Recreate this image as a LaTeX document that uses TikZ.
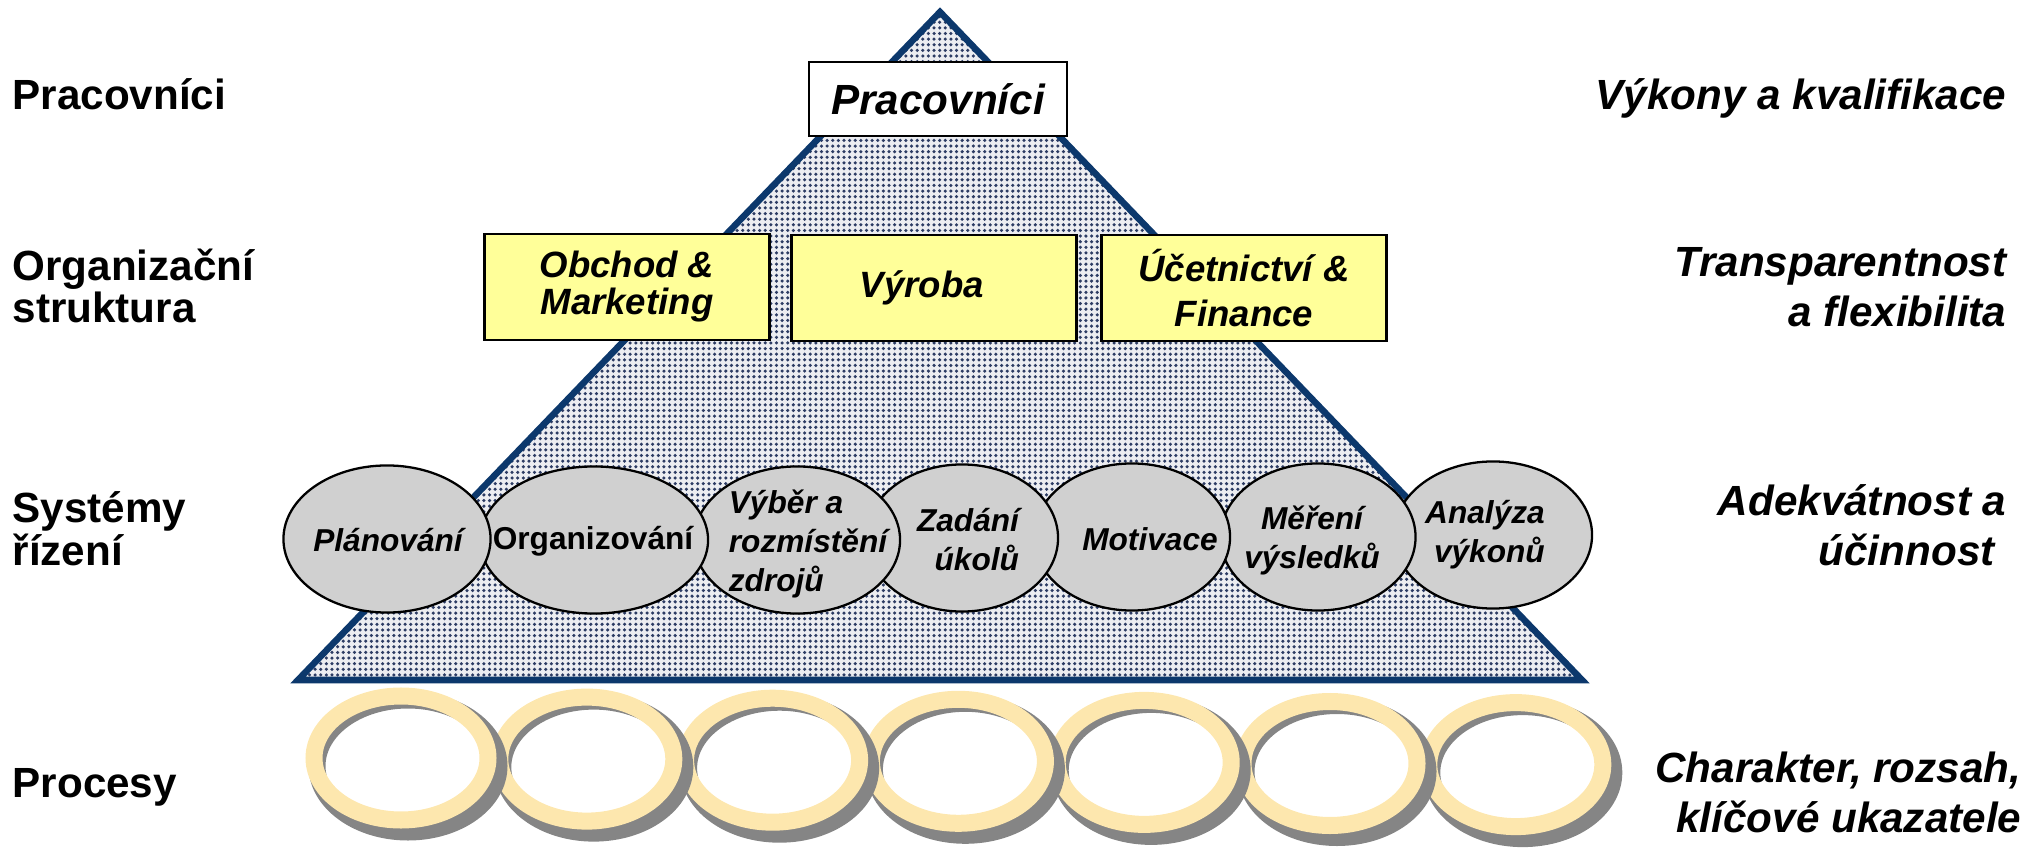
\documentclass[tikz,border=0pt]{standalone}
\usepackage{fontspec}
\setmainfont{Liberation Sans}
\usetikzlibrary{shapes.geometric}
\usetikzlibrary{patterns.meta}

\definecolor{navy}{RGB}{12,56,108}
\definecolor{dotcol}{RGB}{45,60,100}
\definecolor{dotbg}{RGB}{236,237,241}
\definecolor{sysgray}{RGB}{208,208,208}
\definecolor{deptyellow}{RGB}{255,255,153}
\definecolor{ringyellow}{RGB}{253,231,174}
\definecolor{ringshade}{RGB}{133,133,133}

\tikzdeclarepattern{
  name=finedots,
  type=uncolored,
  bounding box={(-0.8pt,-0.8pt) and (0.8pt,0.8pt)},
  tile size={(1.6pt,1.6pt)},
  code={\fill (0pt,0pt) circle (0.5pt);}
}

\begin{document}
\begin{tikzpicture}[x=0.01cm, y=-0.01cm,
    lvl/.style={font=\bfseries\fontsize{12}{12.2}\selectfont, inner sep=0pt},
    crit/.style={font=\bfseries\itshape\fontsize{12}{14.2}\selectfont, inner sep=0pt},
    dept/.style={draw, line width=0.7pt, fill=deptyellow, minimum width=2.85cm, minimum height=1.06cm,
        inner sep=0pt, align=center, font=\bfseries\itshape\fontsize{10.4}{10.5}\selectfont},
    sys/.style={ellipse, draw, line width=0.65pt, fill=sysgray, inner sep=0pt, minimum height=1.47cm},
    systxt/.style={font=\bfseries\itshape\fontsize{9}{11.1}\selectfont, inner sep=0pt},
    ring/.style={draw=ringyellow, line width=0.17cm},
    ringshadow/.style={draw=ringshade, line width=0.17cm}]
    \useasboundingbox (0,0) rectangle (2033,855);

    % pyramid
    \coordinate (top) at (940,12);
    \coordinate (bl) at (298,680);
    \coordinate (br) at (1582,680);
    \draw[draw=navy, line width=1.85pt, preaction={fill=dotbg}, pattern={finedots}, pattern color=dotcol]
        (top) -- (bl) -- (br) -- cycle;

    \node[draw, line width=0.6pt, fill=white, minimum width=2.57cm, minimum height=0.74cm, inner sep=0pt,
        font=\bfseries\itshape\fontsize{12}{14}\selectfont] (prac) at (938,99) {Pracovníci};

    \node[dept] (obchod) at (627,287) {Obchod \&\\Marketing};
    \node[dept] (vyroba) at (934,288) {Výroba\kern 7pt};
    \node[dept, font=\bfseries\itshape\fontsize{10.4}{12.8}\selectfont] (ucet) at (1244,288) {Účetnictví \&\\Finance};

    % right to left, so the left ellipse lies on top
    \node[sys, minimum width=1.98cm] (analyza) at (1493,535) {};
    \node[sys, minimum width=1.95cm] (mereni) at (1318,537) {};
    \node[sys, minimum width=1.96cm] (motivace) at (1132,537) {};
    \node[sys, minimum width=1.92cm] (zadani) at (962,538) {};
    \node[sys, minimum width=2.06cm] (vyber) at (797,540) {};
    \node[sys, minimum width=2.28cm] (organiz) at (594,540) {};
    \node[sys, minimum width=2.07cm] (plan) at (387,539) {};

    \node[systxt] (t-plan) at (388,540) {Plánování};
    \node[systxt, font=\bfseries\fontsize{9}{11.1}\selectfont] (t-organiz) at (593,541) {Organizování};
    \node[systxt, align=left] (t-vyber) at (808,544) {Výběr a\\rozmístění\\zdrojů};
    \node[systxt, align=right] (t-zadani) at (968,540) {Zadání\\úkolů};
    \node[systxt] (t-motivace) at (1150,539) {Motivace};
    \node[systxt, align=center] (t-mereni) at (1312,540) {Měření\\výsledků};
    \node[systxt, align=right] (t-analyza) at (1485,535) {Analýza\\výkonů};

    % processes
    \foreach \i in {6,5,...,0} {
        \pgfmathsetmacro{\cx}{401+185.8*\i}
        \pgfmathsetmacro{\cy}{758+1.1*\i}
        \draw[ringshadow] (\cx+7,\cy+8) ellipse (91 and 66);
        \draw[ring] (\cx,\cy) ellipse (87 and 62);
    }

    \node[lvl, anchor=base west] (l-prac) at (12,110) {Pracovníci};
    \node[lvl, anchor=west, align=left] (l-org) at (12,286) {Organizační\\struktura};
    \node[lvl, anchor=west, align=left] (l-sys) at (12,529) {Systémy\\řízení};
    \node[lvl, anchor=base west] (l-proc) at (12,797) {Procesy};

    \node[crit, anchor=base east] (c-prac) at (2007,110) {Výkony a kvalifikace};
    \node[crit, anchor=east, align=right] (c-org) at (2007,287) {Transparentnost\\a flexibilita};
    \node[crit, anchor=east, align=right] (c-sys) at (2007,525) {Adekvátnost a\\účinnost\kern.28em};
    \node[crit, anchor=east, align=right] (c-proc) at (2022,792) {Charakter, rozsah,\\klíčové ukazatele};
\end{tikzpicture}
\end{document}
